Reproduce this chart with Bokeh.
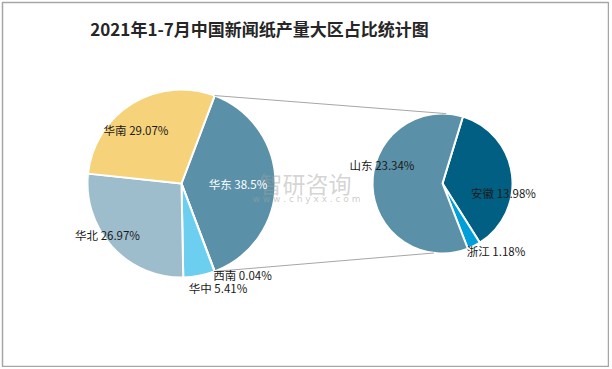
import math
from bokeh.plotting import figure
from bokeh.models import Range1d, ColumnDataSource
from bokeh.core.properties import value
from bokeh.embed import file_html
from bokeh.resources import INLINE

# ---------------- data ----------------
title_text = "2021年1-7月中国新闻纸产量大区占比统计图"

main_regions = ["华东", "西南", "华中", "华北", "华南"]
main_values = [38.5, 0.04, 5.41, 26.97, 29.07]
main_labels = ["38.5%", "0.04%", "5.41%", "26.97%", "29.07%"]

sub_regions = ["安徽", "浙江", "山东"]
sub_values = [13.98, 1.18, 23.34]
sub_labels = ["13.98%", "1.18%", "23.34%"]

# ---------------- styles / layout ----------------
main_colors = ["#5B91A8", "#B0B0B0", "#6DCFF0", "#9EBDCC", "#F6D27A"]
sub_colors = ["#005F82", "#009FD9", "#5B91A8"]
label_colors_main = ["white", "#1a1a1a", "#1a1a1a", "#1a1a1a", "#1a1a1a"]
label_colors_sub = ["#1a1a1a", "#1a1a1a", "#1a1a1a"]

FONT = "Noto Sans CJK SC"
W, H = 609, 367
# data coordinates: x = page x, y = -page y
MAIN_C = (181, 183)
MAIN_R = 94
SUB_C = (442, 183)
SUB_R = 70
SUB_START = 17.0  # degrees clockwise from top

# label offsets (px, page coordinates) relative to pie centres
main_label_off = [(56.5, 0), (61, 91), (36.5, 104), (-74, 51), (-45.5, -54)]
sub_label_off = [(61, 9), (53.5, 67), (-60.5, -19)]


def cw_to_math(deg):
    return math.radians(90.0 - deg)


p = figure(width=W, height=H, output_backend="svg", toolbar_location=None,
           x_range=Range1d(2, 608), y_range=Range1d(-366, -2),
           x_axis_type=None, y_axis_type=None,
           min_border_left=2, min_border_right=1,
           min_border_top=2, min_border_bottom=1)
p.grid.visible = False
p.outline_line_color = "#A6A6A6"
p.outline_line_width = 1.5
p.background_fill_color = "white"
p.border_fill_color = "white"

# ---------- main pie ----------
tot = sum(main_values)
split_span = main_values[0] / tot * 360.0
start = 90.0 - split_span / 2.0  # split slice centred on the right
ms, me = [], []
cur = start
for v in main_values:
    span = v / tot * 360.0
    ms.append(cw_to_math(cur + span))
    me.append(cw_to_math(cur))
    cur += span
main_src = ColumnDataSource(dict(
    x=[MAIN_C[0]] * len(main_values), y=[-MAIN_C[1]] * len(main_values),
    s=ms, e=me, c=main_colors))
p.wedge(x="x", y="y", radius=MAIN_R, start_angle="s", end_angle="e",
        fill_color="c", line_color="white", line_width=2, source=main_src)

# ---------- sub pie ----------
stot = sum(sub_values)
ss, se = [], []
cur = SUB_START
for v in sub_values:
    span = v / stot * 360.0
    ss.append(cw_to_math(cur + span))
    se.append(cw_to_math(cur))
    cur += span
sub_src = ColumnDataSource(dict(
    x=[SUB_C[0]] * len(sub_values), y=[-SUB_C[1]] * len(sub_values),
    s=ss, e=se, c=sub_colors))
p.wedge(x="x", y="y", radius=SUB_R, start_angle="s", end_angle="e",
        fill_color="c", line_color="white", line_width=2, source=sub_src)

# ---------- connector lines ----------
a_top = start
a_bot = start + split_span
lx0 = MAIN_C[0] + MAIN_R * math.sin(math.radians(a_top))
ly0 = MAIN_C[1] - MAIN_R * math.cos(math.radians(a_top))
lx1 = MAIN_C[0] + MAIN_R * math.sin(math.radians(a_bot))
ly1 = MAIN_C[1] - MAIN_R * math.cos(math.radians(a_bot))
rx0 = SUB_C[0] + SUB_R * math.sin(math.radians(3))
ry0 = SUB_C[1] - SUB_R * math.cos(math.radians(3))
rx1 = SUB_C[0] + SUB_R * math.sin(math.radians(187))
ry1 = SUB_C[1] - SUB_R * math.cos(math.radians(187))
p.segment(x0=[lx0, lx1], y0=[-ly0, -ly1], x1=[rx0, rx1], y1=[-ry0, -ry1],
          line_color="#A6A6A6", line_width=1)

# ---------- watermark ----------
p.text(x=[305], y=[-182], text=["智研咨询"], text_font=value(FONT),
       text_font_size="23px", text_color="#A0A0A0", text_alpha=0.45,
       text_align="center", text_baseline="middle")
p.text(x=[306], y=[-198], text=["w w w . c h y x x . c o m"], text_font=value("DejaVu Sans"),
       text_font_size="9px", text_color="#A0A0A0", text_alpha=0.55,
       text_align="center", text_baseline="middle")

# ---------- labels ----------
mlx = [MAIN_C[0] + o[0] for o in main_label_off]
mly = [-(MAIN_C[1] + o[1]) for o in main_label_off]
mtxt = [f"{r} {l}" for r, l in zip(main_regions, main_labels)]
p.text(x=mlx, y=mly, text=mtxt, text_font=value(FONT), text_font_size="11.5px",
       text_color=label_colors_main, text_align="center", text_baseline="middle")

slx = [SUB_C[0] + o[0] for o in sub_label_off]
sly = [-(SUB_C[1] + o[1]) for o in sub_label_off]
stxt = [f"{r} {l}" for r, l in zip(sub_regions, sub_labels)]
p.text(x=slx, y=sly, text=stxt, text_font=value(FONT), text_font_size="11.5px",
       text_color=label_colors_sub, text_align="center", text_baseline="middle")

# ---------- title ----------
p.text(x=[259], y=[-28], text=[title_text], text_font=value(FONT),
       text_font_size="17px", text_font_style="bold", text_color="#262626",
       text_align="center", text_baseline="middle")

open("out.html", "w").write(file_html(p, INLINE))
